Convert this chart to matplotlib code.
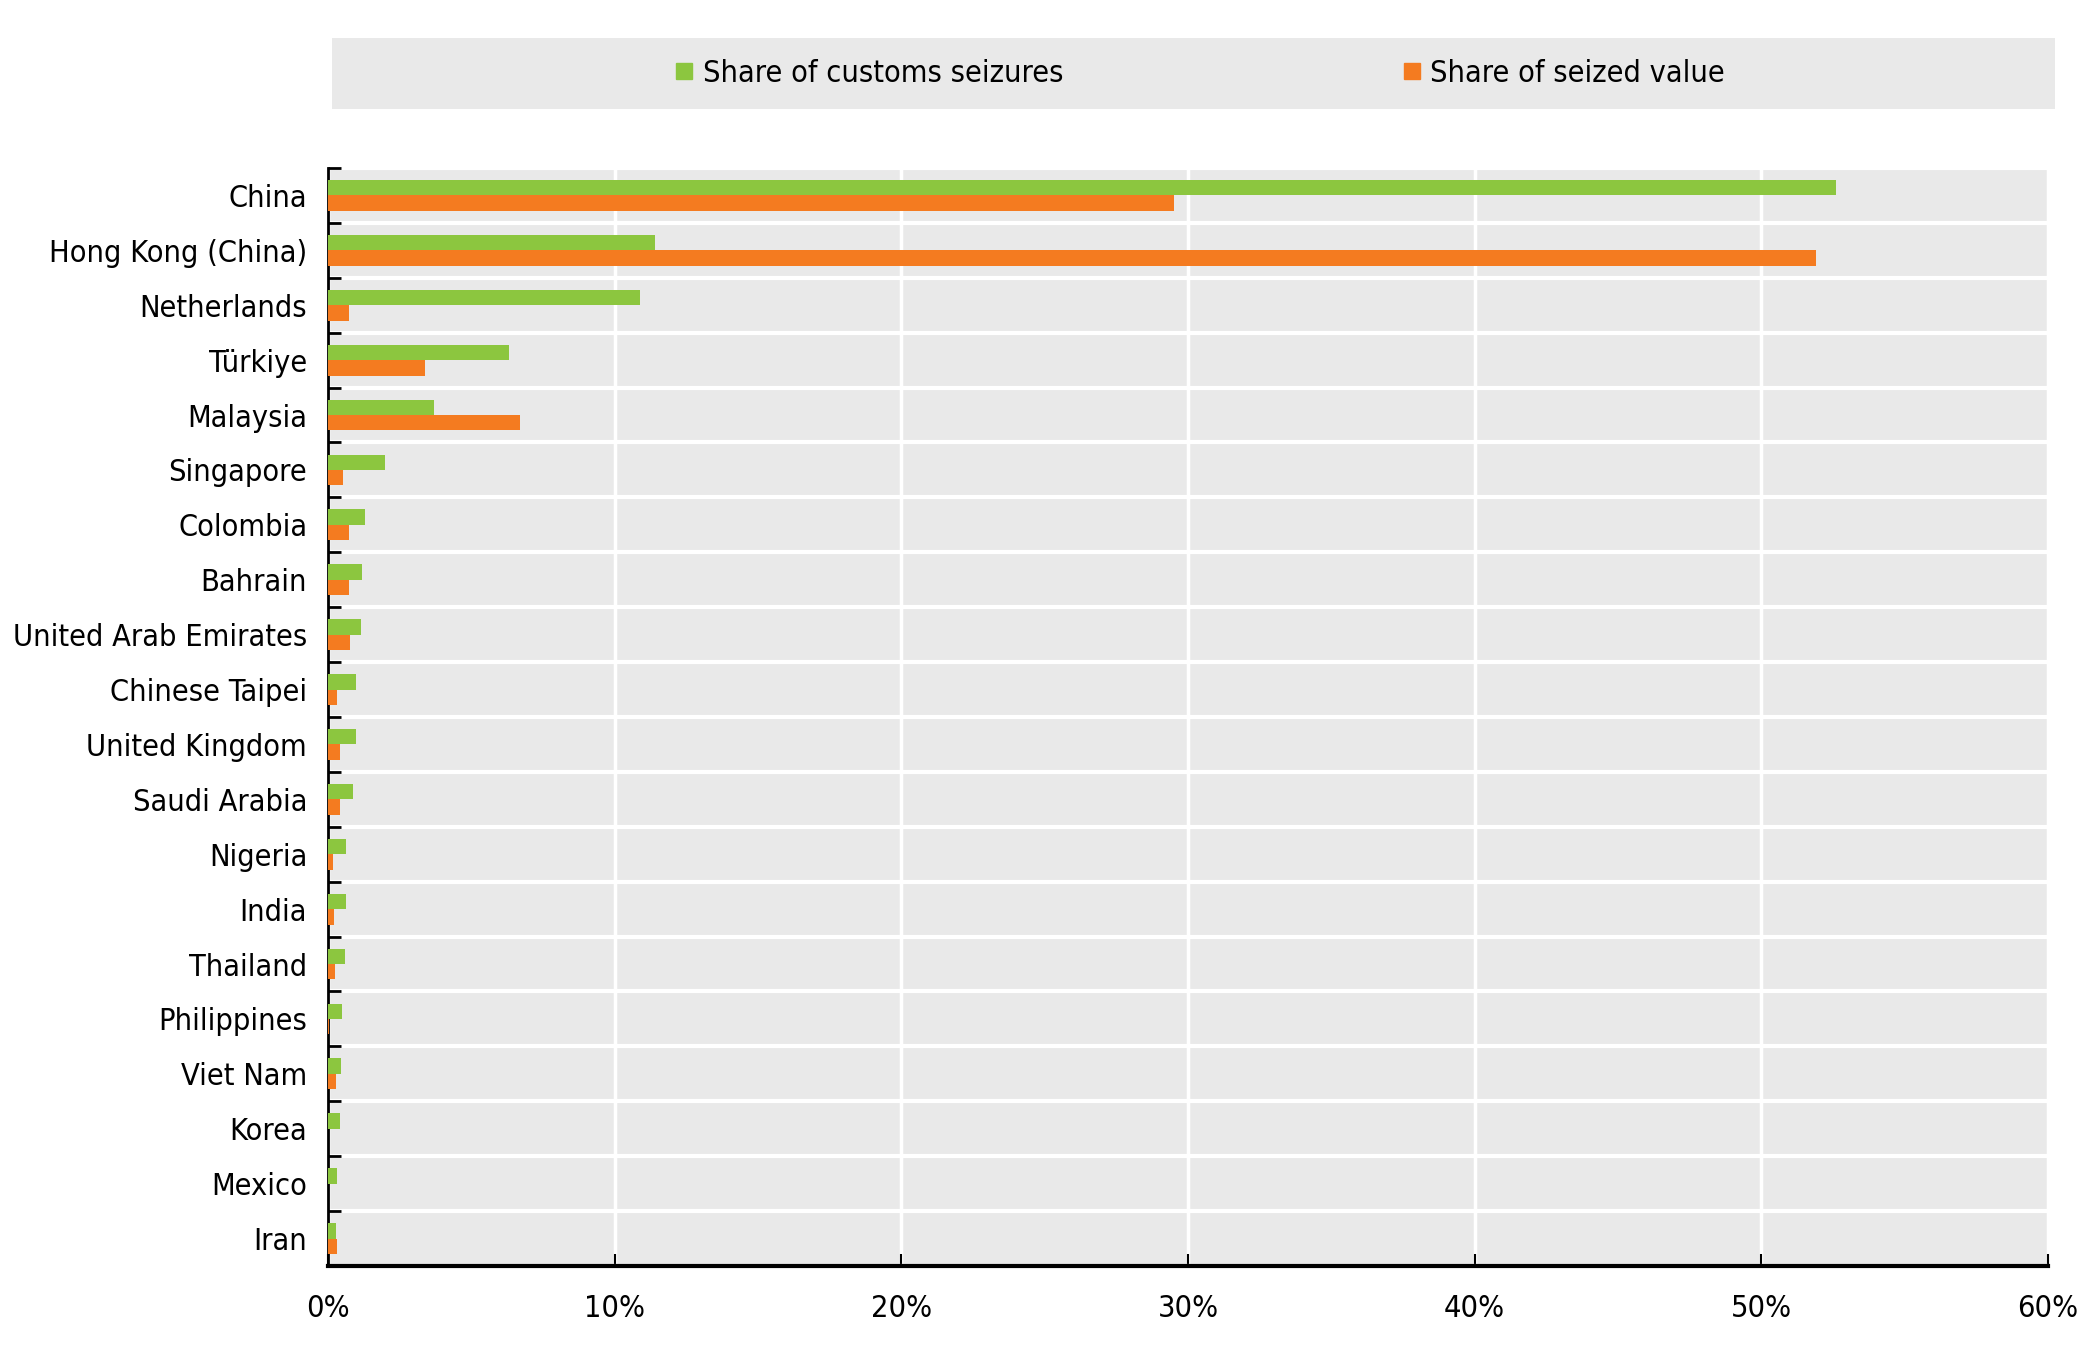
import numpy as np
import matplotlib
matplotlib.use("Agg")
import matplotlib.pyplot as plt
from matplotlib.lines import Line2D
from matplotlib.patches import Rectangle

plt.rcParams['font.family'] = ['DejaVu Sans']
plt.rcParams['font.stretch'] = 'condensed'

# data (percent)
countries = ['China', 'Hong Kong (China)', 'Netherlands', 'Türkiye', 'Malaysia',
             'Singapore', 'Colombia', 'Bahrain', 'United Arab Emirates',
             'Chinese Taipei', 'United Kingdom', 'Saudi Arabia', 'Nigeria',
             'India', 'Thailand', 'Philippines', 'Viet Nam', 'Korea', 'Mexico', 'Iran']
seizures = [52.6, 11.4, 10.9, 6.3, 3.7, 1.98, 1.3, 1.18, 1.15, 0.98, 0.99,
            0.86, 0.64, 0.64, 0.59, 0.48, 0.47, 0.43, 0.30, 0.28]
value = [29.5, 51.9, 0.73, 3.4, 6.7, 0.53, 0.73, 0.72, 0.76, 0.31, 0.42,
         0.42, 0.16, 0.20, 0.23, 0.05, 0.27, 0.0, 0.0, 0.30]
xticks = [0, 10, 20, 30, 40, 50, 60]

green = '#8cc63f'
orange = '#f47b20'
bg = '#e9e9e9'
fs = 22

fig = plt.figure(figsize=(21, 13.57), dpi=100)
ax = fig.add_axes([328 / 2100, 1 - 1266 / 1357, (2048 - 328) / 2100, (1266 - 168) / 1357])
ax.set_facecolor(bg)

y = np.arange(len(countries))
h = 0.28
ax.barh(y - h / 2, seizures, height=h, color=green, zorder=3)
ax.barh(y + h / 2, value, height=h, color=orange, zorder=3)

ax.set_xlim(0, 60)
ax.set_ylim(len(countries) - 0.5, -0.5)
ax.set_xticks(xticks)
ax.set_xticklabels([f'{t}%' for t in xticks], fontsize=fs)
ax.set_yticks(y)
ax.set_yticklabels(countries, fontsize=fs)
ax.set_yticks(np.arange(len(countries) + 1) - 0.5, minor=True)

ax.tick_params(axis='y', which='major', length=0, pad=15)
ax.tick_params(axis='y', which='minor', direction='in', length=9, width=2, color='black')
ax.tick_params(axis='x', which='major', direction='in', length=9, width=1.5, pad=20)

ax.grid(axis='x', which='major', color='white', lw=2.5, zorder=1)
ax.grid(axis='y', which='minor', color='white', lw=3, zorder=1)

for s in ['top', 'right']:
    ax.spines[s].set_visible(False)
ax.spines['left'].set_linewidth(2)
ax.spines['bottom'].set_linewidth(3)

# legend band
fig.patches.append(Rectangle((332 / 2100, 1 - 109 / 1357), (2055 - 332) / 2100, 71 / 1357,
                             transform=fig.transFigure, facecolor=bg, edgecolor='none', zorder=0))
handles = [Line2D([], [], marker='s', ls='none', color=green, markersize=12),
           Line2D([], [], marker='s', ls='none', color=orange, markersize=12)]
fig.legend(handles, ['Share of customs seizures', 'Share of seized value'],
           loc='center', bbox_to_anchor=(1200 / 2100, 1 - 73 / 1357), ncol=2,
           frameon=False, fontsize=fs, handlelength=0.6, handletextpad=0.3,
           columnspacing=11.1)

fig.savefig('out.png', dpi=100)
